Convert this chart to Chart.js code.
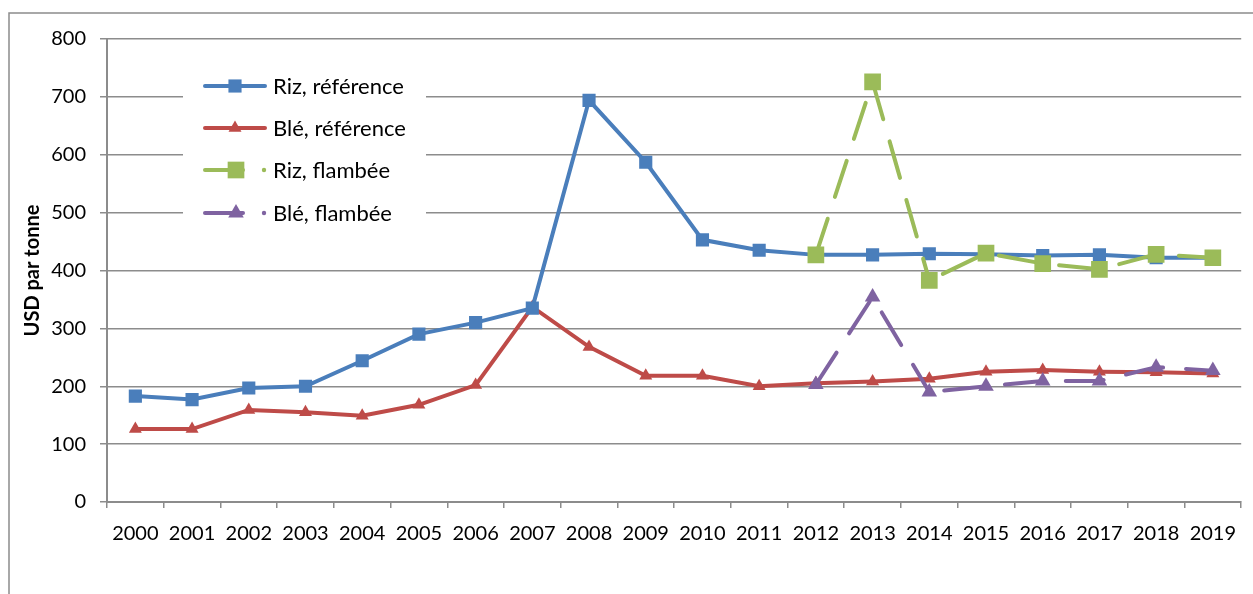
<!DOCTYPE html>
<html>
<head>
<meta charset="utf-8">
<script src="https://cdn.jsdelivr.net/npm/chart.js@4.4.1/dist/chart.umd.min.js"></script>
<style>
  html, body { margin: 0; padding: 0; background: #fff; }
  #wrap { width: 1253px; height: 594px; position: relative; }
</style>
</head>
<body>
<div id="wrap"><canvas id="c" width="1253" height="594"></canvas></div>
<script>
// ---- Data ----
const years = ['2000','2001','2002','2003','2004','2005','2006','2007','2008','2009',
               '2010','2011','2012','2013','2014','2015','2016','2017','2018','2019'];
const seriesNames = ['Riz, référence', 'Blé, référence', 'Riz, flambée', 'Blé, flambée'];
const rizReference = [183,177,197,200,244,290,310,335,694,587,453,435,427,427,429,428,426,427,422,422];
const bleReference = [126,126,159,155,149,168,202,337,268,218,218,200,205,208,213,225,228,225,224,222];
const rizFlambee   = [null,null,null,null,null,null,null,null,null,null,null,null,427,726,383,430,412,402,428,422];
const bleFlambee   = [null,null,null,null,null,null,null,null,null,null,null,null,203,354,190,200,209,209,233,227];
const yTicks = [0,100,200,300,400,500,600,700,800];
const yTitle = 'USD par tonne';

const BLUE = '#4A7EBB', RED = '#BE4B48', GREEN = '#9BBB59', PURPLE = '#7F63A1';
const GRID = '#8C8C8C';

Chart.defaults.font.family = 'Lato';
Chart.defaults.color = '#000';

const dashSeg = {
  borderDashOffset: ctx => (ctx.p0DataIndex >= 14 ? 46 : 0)
};

const frame = {
  id: 'frame',
  beforeDraw(chart) {
    const ctx = chart.ctx;
    ctx.save();
    ctx.fillStyle = '#fff';
    ctx.fillRect(0, 0, chart.width, chart.height);
    ctx.strokeStyle = GRID;
    ctx.lineWidth = 1.5;
    ctx.strokeRect(9, 13, 2000, 2000);
    ctx.restore();
  }
};

function drawMarker(ctx, style, x, y, r, color) {
  ctx.fillStyle = color;
  ctx.beginPath();
  if (style === 'rect') {
    const s = Math.SQRT1_2 * r;
    ctx.rect(x - s, y - s, 2 * s, 2 * s);
  } else {
    ctx.moveTo(x, y - r);
    ctx.lineTo(x + r * Math.sin(Math.PI / 3), y + r * 0.5);
    ctx.lineTo(x - r * Math.sin(Math.PI / 3), y + r * 0.5);
    ctx.closePath();
  }
  ctx.fill();
}

const legendBox = {
  id: 'legendBox',
  afterDatasetsDraw(chart) {
    const ctx = chart.ctx;
    ctx.save();
    ctx.fillStyle = '#fff';
    ctx.fillRect(183, 62, 243, 174);
    const rowY = [86, 128, 170, 213];
    chart.data.datasets.forEach((ds, i) => {
      const y = rowY[i];
      const dashed = !!ds.borderDash;
      ctx.strokeStyle = ds.borderColor;
      ctx.lineWidth = 4;
      ctx.lineCap = 'round';
      ctx.beginPath();
      ctx.moveTo(205, y);
      ctx.lineTo(dashed ? 243 : 265, y);
      ctx.stroke();
      drawMarker(ctx, ds.pointStyle, dashed ? 236 : 235, y, ds.pointRadius, ds.borderColor);
      if (dashed) {
        ctx.fillStyle = ds.borderColor;
        ctx.beginPath();
        ctx.arc(264, y, 2.2, 0, Math.PI * 2);
        ctx.fill();
      }
      ctx.fillStyle = '#000';
      ctx.font = '22px Lato';
      ctx.textBaseline = 'middle';
      ctx.textAlign = 'left';
      ctx.fillText(ds.label, 273, y + 1);
    });
    ctx.restore();
  }
};

new Chart(document.getElementById('c'), {
  type: 'line',
  data: {
    labels: years,
    datasets: [
      { label: seriesNames[0], data: rizReference, borderColor: BLUE, backgroundColor: BLUE,
        borderWidth: 4, pointStyle: 'rect', pointRadius: 9.3, pointBorderWidth: 0, order: 2 },
      { label: seriesNames[1], data: bleReference, borderColor: RED, backgroundColor: RED,
        borderWidth: 4, pointStyle: 'triangle', pointRadius: 7.5, pointBorderWidth: 0, order: 2 },
      { label: seriesNames[2], data: rizFlambee, borderColor: GREEN, backgroundColor: GREEN,
        borderWidth: 4, borderDash: [38, 23], borderCapStyle: 'round', segment: dashSeg,
        pointStyle: 'rect', pointRadius: 11.8, pointBorderWidth: 0, order: 1 },
      { label: seriesNames[3], data: bleFlambee, borderColor: PURPLE, backgroundColor: PURPLE,
        borderWidth: 4, borderDash: [38, 23], borderCapStyle: 'round', segment: dashSeg,
        pointStyle: 'triangle', pointRadius: 9, pointBorderWidth: 0, order: 1 }
    ]
  },
  options: {
    responsive: false,
    animation: false,
    events: [],
    layout: { padding: { left: 20, top: 39, right: 5, bottom: 0 } },
    plugins: { legend: { display: false }, tooltip: { enabled: false } },
    elements: { line: { tension: 0 } },
    scales: {
      x: {
        offset: true,
        afterFit(scale) { scale.height = 92; },
        grid: { offset: true, drawOnChartArea: false, drawTicks: true, tickLength: 6,
                color: GRID, lineWidth: 1.5 },
        border: { display: true, color: GRID, width: 2 },
        ticks: { font: { size: 20 }, padding: 14, maxRotation: 0, autoSkip: false, color: '#000' }
      },
      y: {
        min: 0, max: 800,
        afterFit(scale) { scale.width = 87; },
        afterBuildTicks(scale) { scale.ticks = yTicks.map(v => ({ value: v })); },
        grid: { color: GRID, lineWidth: 1.5, drawTicks: true, tickLength: 7 },
        border: { display: true, color: GRID, width: 2 },
        ticks: { font: { size: 20 }, padding: 14, color: '#000' },
        title: { display: true, text: yTitle, font: { size: 20, weight: 'bold' },
                 padding: { top: 1, bottom: 0 }, color: '#000' }
      }
    }
  },
  plugins: [frame, legendBox]
});
</script>
</body>
</html>
